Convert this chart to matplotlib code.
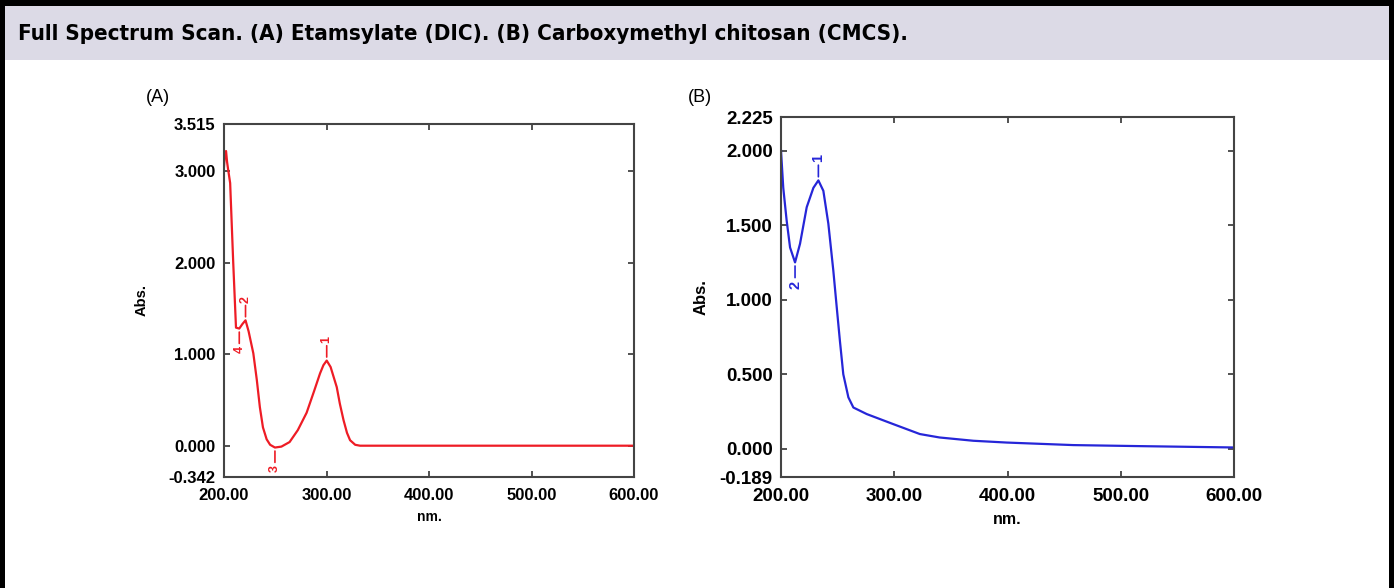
import numpy as np
import matplotlib
matplotlib.use("Agg")
from matplotlib import pyplot as plt
from matplotlib.patches import Rectangle

# spectrum A: Etamsylate (DIC)
nm_a = [200, 201, 202, 203, 204, 206, 209, 211.7, 214.9, 218, 221, 224, 228.6, 232, 235,
        238, 241.6, 245, 249.7, 256, 264, 272, 280.6, 288, 293.7, 297, 300.2, 304, 310,
        313, 316.6, 320, 323, 328, 332.7, 340, 400, 500, 600]
abs_a = [3.05, 3.2, 3.22, 3.1, 3.02, 2.87, 2.0, 1.29, 1.28, 1.33, 1.37, 1.25, 1.01, 0.72, 0.42,
         0.2, 0.07, 0.01, -0.02, -0.01, 0.04, 0.17, 0.36, 0.6, 0.79, 0.88, 0.93, 0.86, 0.64,
         0.46, 0.28, 0.14, 0.06, 0.01, 0.0, 0.0, 0.0, 0.0, 0.0]

# spectrum B: Carboxymethyl chitosan (CMCS)
nm_b = [200, 202, 205, 208, 212.4, 216.8, 222.7, 228.6, 233, 237.4, 241.8, 246.2, 249.2,
        252, 255, 259.5, 263.9, 275.7, 299, 322.6, 340, 369.8, 399.2, 458, 517, 600]
abs_b = [2.0, 1.75, 1.53, 1.35, 1.25, 1.375, 1.62, 1.75, 1.80, 1.73, 1.51, 1.195, 0.95,
         0.725, 0.50, 0.345, 0.277, 0.233, 0.166, 0.099, 0.076, 0.054, 0.042, 0.025,
         0.018, 0.009]

# peak labels: (number, nm, abs, above?)
peaks_a = [("1", 300.2, 0.93, True), ("2", 221, 1.37, True),
           ("3", 249.7, -0.02, False), ("4", 214.9, 1.28, False)]
peaks_b = [("1", 233, 1.80, True), ("2", 212.4, 1.25, False)]

yt_a = [-0.342, 0.0, 1.0, 2.0, 3.0, 3.515]
yt_b = [-0.189, 0.0, 0.5, 1.0, 1.5, 2.0, 2.225]
xt = [200, 300, 400, 500, 600]

W, H = 1394, 588
fig = plt.figure(figsize=(W / 100, H / 100), dpi=100)
plt.rcParams["font.family"] = ["Liberation Sans", "DejaVu Sans"]

# frame (top, left, right) and title band
fig.patches.append(Rectangle((0, 1 - 6 / H), 1, 6 / H, transform=fig.transFigure,
                             fc="black", ec="none", zorder=0))
fig.patches.append(Rectangle((0, 0), 5 / W, 1, transform=fig.transFigure,
                             fc="black", ec="none", zorder=0))
fig.patches.append(Rectangle((1 - 5 / W, 0), 5 / W, 1, transform=fig.transFigure,
                             fc="black", ec="none", zorder=0))
fig.patches.append(Rectangle((5 / W, 1 - 60 / H), 1 - 10 / W, 54 / H,
                             transform=fig.transFigure, fc="#dcdae6", ec="none", zorder=0))
fig.text(18 / W, 1 - 34 / H, "Full Spectrum Scan. (A) Etamsylate (DIC). (B) Carboxymethyl chitosan (CMCS).",
         family=["DejaVu Sans"], fontstretch="condensed", fontweight="bold", fontsize=16,
         va="center", ha="left")


def panel(rect, nm, ab, yt, peaks, color, fs, wt, tag, tagpos, ylab_x):
    ax = fig.add_axes([rect[0] / W, 1 - rect[3] / H, (rect[2] - rect[0]) / W,
                       (rect[3] - rect[1]) / H])
    ax.plot(nm, ab, color=color, lw=1.6)
    ax.set_xlim(200, 600)
    ax.set_ylim(yt[0], yt[-1])
    ax.set_xticks(xt)
    ax.set_xticklabels(["%.2f" % v for v in xt], fontsize=fs, fontweight=wt)
    ax.set_yticks(yt)
    ax.set_yticklabels(["%.3f" % v for v in yt], fontsize=fs, fontweight=wt)
    ax.tick_params(direction="in", top=True, right=True, length=4, width=1.2,
                   color="#333333")
    ax.tick_params(axis="x", pad=8)
    ax.tick_params(axis="y", pad=6)
    for s in ax.spines.values():
        s.set_color("#444444")
        s.set_linewidth(1.5)
    ax.set_xlabel("nm.", fontsize=fs - 2, fontweight="bold", labelpad=5)
    ax.set_ylabel("Abs.", fontsize=fs - 1.5, fontweight=wt)
    ax.yaxis.set_label_coords(ylab_x, 0.5)
    span = yt[-1] - yt[0]
    for lab, x, y, up in peaks:
        d = 1 if up else -1
        ax.annotate(lab, xy=(x, y + d * 0.01 * span), xytext=(x, y + d * 0.05 * span),
                    color=color, fontsize=fs - 3, fontweight="bold", rotation=90,
                    ha="center", va="bottom" if up else "top",
                    arrowprops=dict(arrowstyle="-", color=color, lw=1.2,
                                    shrinkA=0, shrinkB=0))
    fig.text(tagpos[0] / W, 1 - tagpos[1] / H, tag, fontsize=13, ha="left", va="center")
    return ax


panel((224, 124, 634, 477), nm_a, abs_a, yt_a, peaks_a, "#ee1c25", 12, "bold",
      "(A)", (146, 98), -0.183)
panel((781, 117, 1234, 477), nm_b, abs_b, yt_b, peaks_b, "#2626d8", 13.5, "bold",
      "(B)", (688, 98), -0.16)

fig.savefig("out.png", dpi=100)
